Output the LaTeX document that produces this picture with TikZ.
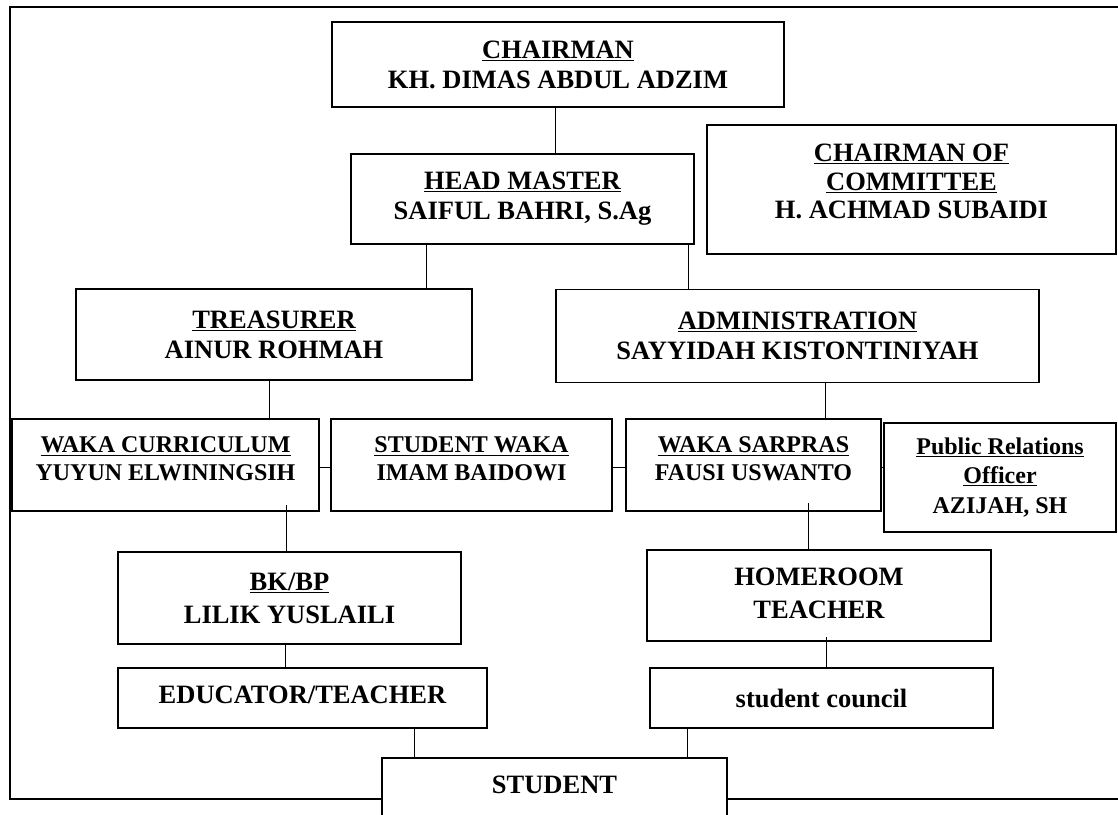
\documentclass[tikz,border=0pt]{standalone}
\usepackage{fontspec}
\setmainfont{Liberation Serif}
\newcommand{\lift}[1]{\rule[-#1]{0pt}{#1}}
\begin{document}
\begin{tikzpicture}[
  x=1pt, y=-1pt,
  box/.style={draw, line width=1.1pt, fill=white, align=center, inner sep=2pt,
    font=\fontsize{26.5}{30}\selectfont\bfseries},
  boxs/.style={box, font=\fontsize{24}{28}\selectfont\bfseries},
  boxt/.style={box, font=\fontsize{26.5}{33}\selectfont\bfseries},
  link/.style={line width=0.9pt},
  frame/.style={line width=1.1pt}
]
\clip (0,0) rectangle (1118,814);

% --- outer frame ---
\draw[frame] (10,7) rectangle (1130,799);

% --- boxes ---
\node[box, minimum width=452, minimum height=85] (chairman) at (558,64.5)
  {\underline{CHAIRMAN}\\KH. DIMAS ABDUL ADZIM};
\node[box, minimum width=343, minimum height=90] (head) at (522.5,199)
  {\underline{HEAD MASTER}\\SAIFUL BAHRI, S.Ag};
\node[box, minimum width=409, minimum height=129, font=\fontsize{26.5}{28.5}\selectfont\bfseries] (committee) at (911.5,189.5)
  {\underline{CHAIRMAN OF}\\\underline{COMMITTEE}\\H. ACHMAD SUBAIDI\lift{16pt}};
\node[box, minimum width=396, minimum height=91] (treasurer) at (274,334.5)
  {\underline{TREASURER}\\AINUR ROHMAH};
\node[box, minimum width=483, minimum height=93] (admin) at (797.5,336)
  {\underline{ADMINISTRATION}\\SAYYIDAH KISTONTINIYAH};

\node[boxs, minimum width=307, minimum height=92] (wakacur) at (165.5,465)
  {\underline{WAKA CURRICULUM}\\YUYUN ELWININGSIH\lift{12pt}};
\node[boxs, minimum width=281, minimum height=92] (studwaka) at (471.5,465)
  {\underline{STUDENT WAKA}\\IMAM BAIDOWI\lift{12pt}};
\node[boxs, minimum width=255, minimum height=92] (sarpras) at (753.5,465)
  {\underline{WAKA SARPRAS}\\FAUSI USWANTO\lift{12pt}};
\node[boxs, minimum width=232, minimum height=109, font=\fontsize{24}{29.5}\selectfont\bfseries] (pr) at (1000,477.5)
  {\underline{Public Relations}\\\underline{Officer}\\AZIJAH, SH};

\node[boxt, minimum width=343, minimum height=92] (bkbp) at (289.5,598)
  {\underline{BK/BP}\\LILIK YUSLAILI};
\node[boxt, minimum width=344, minimum height=91] (homeroom) at (819,595.5)
  {HOMEROOM\\TEACHER\lift{4pt}};
\node[box, minimum width=369, minimum height=60] (educator) at (302.5,698)
  {EDUCATOR/TEACHER\lift{7pt}};
\node[box, minimum width=343, minimum height=60] (council) at (821.5,698)
  {student council};
\node[box, minimum width=345, minimum height=64, text depth=11.5pt] (student) at (554.5,790)
  {STUDENT};

% --- connectors ---
\draw[link] ([xshift=32.5]head.north) -- ([xshift=32.5]head.north |- chairman.south);
\draw[link] ([xshift=152]treasurer.north) -- ([xshift=152]treasurer.north |- head.south);
\draw[link] ([xshift=-109.5]admin.north) -- ([xshift=-109.5]admin.north |- head.south);
\draw[link] ([xshift=-5]treasurer.south) -- ([xshift=-5]treasurer.south |- wakacur.north);
\draw[link] ([xshift=27.5]admin.south) -- ([xshift=27.5]admin.south |- sarpras.north);

\draw[link] ([yshift=-2]wakacur.east) -- ([yshift=-2]wakacur.east -| studwaka.west);
\draw[link] ([yshift=-2]studwaka.east) -- ([yshift=-2]studwaka.east -| sarpras.west);
\draw[link] ([yshift=-2]sarpras.east) -- ([yshift=-2]sarpras.east -| pr.west);

\draw[link] ([xshift=-3.5]bkbp.north) -- ([xshift=-3.5,yshift=7]bkbp.north |- wakacur.south);
\draw[link] ([xshift=-17.5]educator.north) -- ([xshift=-17.5]educator.north |- bkbp.south);
\draw[link] ([xshift=-11]homeroom.north) -- ([xshift=-11,yshift=9]homeroom.north |- sarpras.south);
\draw[link] ([xshift=4.5]council.north) -- ([xshift=4.5,yshift=5]council.north |- homeroom.south);
\draw[link] ([xshift=-140.5]student.north) -- ([xshift=-140.5]student.north |- educator.south);
\draw[link] ([xshift=132.5]student.north) -- ([xshift=132.5]student.north |- council.south);

\end{tikzpicture}
\end{document}
